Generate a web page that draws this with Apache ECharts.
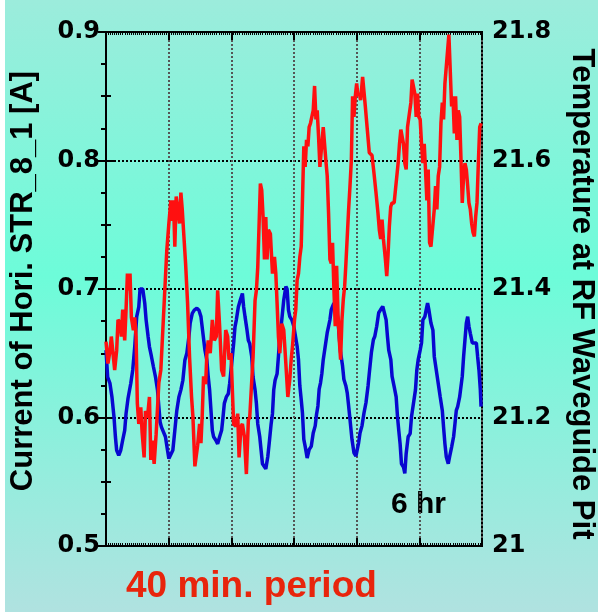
<!DOCTYPE html>
<html>
<head>
<meta charset="utf-8">
<title>Current vs temperature</title>
<script src="https://cdn.jsdelivr.net/npm/echarts@6/dist/echarts.min.js"></script>
<style>
  html, body { margin: 0; padding: 0; background: #fff; }
  #chart { position: absolute; left: 5px; top: 0; width: 593px; height: 612px; }
</style>
</head>
<body>
<div id="chart"></div>
<script>
// time in minutes (0 - 360 = 6 hr)
var redTime = [0, 1.9, 3.8, 5.1, 7, 8.3, 10.2, 11.5, 13.4, 14.7, 16, 17.9, 19.2, 20.5, 21.8, 23, 24.3, 26.2, 27.5, 28.8,
  30, 31.4, 33.3, 34.6, 36.5, 37.8, 39.7, 41.6, 42.9, 44.2, 46.1, 48, 50.6, 52.5, 54.4, 56.3, 58.2, 60.2, 62.1, 63.4,
  64.6, 65.9, 67.2, 69.1, 70.4, 71.7, 73, 74.2, 76.2, 78.1, 80, 81.9, 83.2, 85.1, 86.4, 87.7, 89.6, 90.9, 92.2, 93.4,
  95.4, 96.6, 97.9, 99.8, 101.8, 103.7, 105.6, 106.9, 108.8, 110.7, 112.6, 114.6, 116.5, 117.8, 119.7, 121, 122.2, 124.2, 126.1, 127.4,
  129.3, 130.6, 132.5, 134.4, 136.3, 137.6, 139.5, 140.8, 142.7, 144, 145.3, 146.6, 147.8, 149.1, 150.4, 151.7, 153, 154.2, 155.5, 157.4,
  159.4, 161.3, 162.6, 163.8, 165.1, 166.4, 168.3, 170.2, 172.2, 174.1, 176, 177.3, 178.5, 180.5, 181.7, 183, 184.3, 185.6, 186.9, 188.1,
  189.4, 190.7, 192, 193.3, 194.5, 195.8, 197.1, 198.4, 199.7, 201, 202.2, 203.5, 204.8, 206.7, 208, 209.3, 210.5, 211.8, 213.1, 214.4,
  215.7, 216.9, 218.2, 219.5, 220.8, 222.1, 223.3, 224.6, 225.9, 227.2, 228.5, 229.7, 231, 232.3, 233.6, 234.9, 236.1, 237.4, 238.7, 240,
  241.3, 242.5, 243.8, 245.7, 247, 248.3, 250.2, 252.1, 254.7, 256.6, 258.5, 260.4, 261.7, 263, 264.3, 265.6, 267.5, 268.8, 270, 271.3,
  272.6, 273.9, 275.9, 277.1, 278.4, 279.7, 281, 282.3, 283.5, 284.8, 286.1, 287.4, 288.7, 290.6, 291.9, 293.1, 294.4, 295.7, 297, 298.3,
  299.5, 300.8, 302.1, 303.4, 304.7, 305.9, 307.2, 308.5, 309.8, 311.1, 313, 314.3, 315.5, 316.8, 318.1, 319.4, 320.7, 322, 323.2, 324.5,
  325.8, 327.1, 328.3, 329.6, 330.9, 332.2, 333.5, 334.7, 336, 337.3, 338.6, 339.8, 341.1, 342.4, 343.7, 345, 346.3, 347.5, 348.8, 350.1,
  351.4, 352.7, 353.9, 355.2, 356.5, 357.8, 359.1];
var redCurrent = [0.659, 0.642, 0.652, 0.663, 0.663, 0.637, 0.652, 0.676, 0.674, 0.663, 0.684, 0.660, 0.684, 0.712, 0.699, 0.712, 0.678, 0.668, 0.678, 0.663,
  0.611, 0.595, 0.608, 0.588, 0.569, 0.605, 0.600, 0.616, 0.567, 0.582, 0.564, 0.587, 0.627, 0.637, 0.668, 0.699, 0.730, 0.751, 0.769, 0.753,
  0.769, 0.733, 0.772, 0.773, 0.751, 0.775, 0.762, 0.746, 0.720, 0.689, 0.647, 0.616, 0.601, 0.562, 0.562, 0.578, 0.595, 0.580, 0.603, 0.632,
  0.626, 0.650, 0.660, 0.650, 0.676, 0.660, 0.663, 0.699, 0.671, 0.637, 0.632, 0.668, 0.663, 0.645, 0.650, 0.621, 0.595, 0.593, 0.603, 0.569,
  0.593, 0.595, 0.585, 0.556, 0.598, 0.600, 0.600, 0.647, 0.691, 0.699, 0.717, 0.717, 0.782, 0.777, 0.756, 0.723, 0.756, 0.723, 0.746, 0.743,
  0.712, 0.725, 0.712, 0.689, 0.663, 0.650, 0.673, 0.668, 0.642, 0.616, 0.630, 0.645, 0.655, 0.676, 0.684, 0.707, 0.712, 0.725, 0.733, 0.769,
  0.811, 0.795, 0.816, 0.811, 0.826, 0.829, 0.829, 0.839, 0.858, 0.832, 0.839, 0.819, 0.795, 0.795, 0.826, 0.826, 0.800, 0.788, 0.759, 0.723,
  0.720, 0.736, 0.700, 0.671, 0.718, 0.681, 0.661, 0.645, 0.676, 0.692, 0.702, 0.720, 0.741, 0.762, 0.780, 0.800, 0.850, 0.834, 0.850, 0.860,
  0.850, 0.852, 0.847, 0.865, 0.865, 0.842, 0.842, 0.806, 0.804, 0.790, 0.775, 0.759, 0.746, 0.739, 0.754, 0.739, 0.723, 0.710, 0.726, 0.749,
  0.764, 0.767, 0.767, 0.777, 0.777, 0.798, 0.813, 0.824, 0.825, 0.813, 0.798, 0.793, 0.826, 0.826, 0.845, 0.863, 0.864, 0.852, 0.834, 0.852,
  0.834, 0.832, 0.813, 0.798, 0.813, 0.793, 0.769, 0.793, 0.736, 0.733, 0.733, 0.762, 0.780, 0.762, 0.788, 0.795, 0.829, 0.845, 0.832, 0.860,
  0.860, 0.886, 0.898, 0.870, 0.842, 0.850, 0.821, 0.850, 0.816, 0.839, 0.834, 0.803, 0.767, 0.788, 0.798, 0.793, 0.780, 0.767, 0.762, 0.751,
  0.744, 0.741, 0.756, 0.767, 0.798, 0.826, 0.829];

var blueTime = [0, 1.6, 3.8, 5.7, 7.7, 9, 10.2, 12.2, 14.1, 16, 17.9, 19.2, 21.1, 23.7, 25.6, 27.5, 29.4, 31.4, 32.6, 35.2,
  37.1, 38.4, 40.3, 41.6, 43.5, 45.4, 47.4, 49.3, 50.6, 51.8, 53.1, 55, 56.9, 58.9, 60.2, 62.1, 64, 65.9, 67.8, 69.8,
  71.7, 73.6, 75.5, 77.4, 79.4, 80.6, 82.6, 84.5, 87, 89, 90.9, 92.8, 94.7, 96.6, 97.9, 99.2, 100.5, 101.8, 103, 105,
  106.9, 108.8, 110.7, 112, 113.3, 115.2, 117.1, 118.4, 119.7, 121, 122.2, 123.5, 124.8, 126.7, 128.6, 130.6, 131.8, 133.1, 135, 136.3,
  137.6, 139.5, 140.8, 142.7, 144, 145.3, 147.2, 148.5, 149.8, 151.7, 153, 154.9, 156.2, 158.1, 159.4, 160.6, 161.9, 163.8, 165.1, 166.4,
  168.3, 170.2, 172.2, 173.4, 174.7, 176, 177.9, 179.8, 181.7, 183, 184.3, 185.6, 186.9, 188.1, 189.4, 190.7, 192.6, 194.5, 196.5, 198.4,
  200.3, 201.6, 202.9, 204.1, 205.4, 206.7, 208, 209.9, 211.8, 213.1, 214.4, 215.7, 216.9, 218.2, 220.1, 222.1, 223.3, 224.6, 226.5, 227.8,
  229.7, 231, 232.3, 233.6, 235.5, 237.4, 239.3, 240.6, 241.9, 243.2, 245.1, 247, 248.9, 250.9, 252.1, 254.1, 256, 257.3, 259.2, 261.1,
  263, 265, 266.9, 268.2, 269.5, 270.7, 272.7, 273.9, 275.9, 277.8, 279.1, 280.3, 281.6, 282.9, 284.8, 286.1, 287.4, 289.3, 291.2, 292.5,
  294.4, 296.3, 297.6, 298.9, 300.8, 302.1, 303.4, 305.3, 306.6, 307.9, 309.1, 311.1, 313, 314.3, 316.2, 318.1, 320, 322, 323.2, 324.5,
  325.8, 327.7, 329, 330.9, 332.8, 334.1, 335.4, 336.7, 338.6, 339.9, 341.1, 342.4, 343.7, 345, 346.3, 347.5, 348.8, 350.7, 352.6, 354.6,
  355.8, 357.1, 358.4, 359.1];
var blueTemp = [21.305, 21.263, 21.253, 21.232, 21.200, 21.170, 21.149, 21.141, 21.149, 21.165, 21.180, 21.206, 21.230, 21.253, 21.274, 21.310, 21.357, 21.372, 21.400, 21.400,
  21.378, 21.352, 21.326, 21.310, 21.295, 21.279, 21.263, 21.243, 21.217, 21.193, 21.185, 21.185, 21.170, 21.149, 21.136, 21.136, 21.149, 21.180, 21.211, 21.232,
  21.243, 21.258, 21.289, 21.300, 21.326, 21.347, 21.362, 21.367, 21.370, 21.367, 21.357, 21.331, 21.305, 21.289, 21.263, 21.243, 21.211, 21.180, 21.170, 21.165,
  21.159, 21.170, 21.180, 21.200, 21.222, 21.232, 21.237, 21.253, 21.274, 21.295, 21.315, 21.341, 21.352, 21.372, 21.383, 21.393, 21.372, 21.357, 21.336, 21.320,
  21.315, 21.295, 21.263, 21.243, 21.222, 21.190, 21.170, 21.149, 21.128, 21.128, 21.120, 21.139, 21.159, 21.190, 21.206, 21.243, 21.258, 21.268, 21.295, 21.326,
  21.352, 21.383, 21.404, 21.400, 21.367, 21.357, 21.352, 21.342, 21.342, 21.311, 21.290, 21.249, 21.228, 21.207, 21.166, 21.155, 21.137, 21.150, 21.155, 21.176,
  21.187, 21.205, 21.218, 21.244, 21.254, 21.269, 21.290, 21.311, 21.332, 21.342, 21.352, 21.368, 21.373, 21.378, 21.373, 21.352, 21.326, 21.301, 21.280, 21.259,
  21.249, 21.238, 21.218, 21.197, 21.166, 21.145, 21.140, 21.137, 21.161, 21.176, 21.187, 21.207, 21.223, 21.249, 21.269, 21.301, 21.321, 21.326, 21.342, 21.363,
  21.368, 21.373, 21.373, 21.352, 21.326, 21.305, 21.290, 21.264, 21.248, 21.232, 21.201, 21.180, 21.159, 21.128, 21.123, 21.113, 21.144, 21.170, 21.175, 21.201,
  21.222, 21.243, 21.274, 21.290, 21.305, 21.316, 21.352, 21.357, 21.368, 21.378, 21.368, 21.347, 21.336, 21.295, 21.274, 21.253, 21.232, 21.211, 21.185, 21.159,
  21.139, 21.128, 21.139, 21.154, 21.170, 21.190, 21.211, 21.217, 21.232, 21.232, 21.264, 21.295, 21.321, 21.347, 21.357, 21.342, 21.331, 21.316, 21.316, 21.316,
  21.295, 21.274, 21.243, 21.217];

var leftTitle = "Current of Hori. STR_8_1 [A]";
var rightTitle = "Temperature at RF Waveguide Pit";

function pairs(xs, ys) {
  var out = [];
  for (var i = 0; i < xs.length; i++) out.push([xs[i], ys[i]]);
  return out;
}

var chart = echarts.init(document.getElementById("chart"));
var tickFont = { fontFamily: "DejaVu Sans", fontWeight: "bold", fontSize: 24, color: "#000", padding: [0, 0, 8, 0] };
var titleFont = { fontFamily: "Liberation Sans", fontWeight: "bold", fontSize: 31, color: "#000" };

var xCommon = {
  type: "value", min: 0, max: 360, interval: 60,
  axisLabel: { show: false },
  axisLine: { show: true, lineStyle: { color: "#000", width: 2 } },
  axisTick: { show: true, inside: true, length: 8, lineStyle: { color: "#000", width: 2 } },
  minorTick: { show: true, splitNumber: 30, length: 3, lineStyle: { color: "#000", width: 1 } }
};

chart.setOption({
  backgroundColor: {
    type: "linear", x: 0, y: 0, x2: 0, y2: 1,
    colorStops: [{ offset: 0, color: "#9cecdc" }, { offset: 0.45, color: "#6dfcd9" }, { offset: 1, color: "#b0e2e0" }]
  },
  animation: false,
  grid: { left: 101, right: 116, top: 32, bottom: 66, outerBoundsMode: "none", containLabel: false,
    show: true, borderColor: "#000", borderWidth: 2 },
  xAxis: [
    Object.assign({}, xCommon, {
      position: "bottom",
      splitLine: { show: true, lineStyle: { color: "#555", width: 2, type: [2, 2] } }
    }),
    Object.assign({}, xCommon, { position: "top", splitLine: { show: false } })
  ],
  yAxis: [{
    type: "value", min: 0.5, max: 0.9, interval: 0.1, position: "left",
    name: leftTitle, nameLocation: "middle", nameRotate: 90, nameGap: 67,
    nameTextStyle: Object.assign({ padding: [0, 0, 0, 16] }, titleFont),
    axisLabel: Object.assign({ margin: 6, formatter: function (v) { return v.toFixed(1); } }, tickFont),
    axisLine: { show: true, lineStyle: { color: "#000", width: 2 } },
    axisTick: { show: true, inside: true, length: 8, lineStyle: { color: "#000", width: 2 } },
    minorTick: { show: true, splitNumber: 2, length: 5, lineStyle: { color: "#000", width: 2 } },
    splitLine: { show: true, lineStyle: { color: "#000", width: 2, type: [2, 2] } }
  }, {
    type: "value", min: 21, max: 21.8, interval: 0.2, position: "right",
    name: rightTitle, nameLocation: "middle", nameRotate: -90, nameGap: 84,
    nameTextStyle: Object.assign({ padding: [0, 0, 0, 10] }, titleFont),
    axisLabel: Object.assign({ margin: 10 }, tickFont),
    axisLine: { show: true, lineStyle: { color: "#000", width: 2 } },
    axisTick: { show: true, inside: true, length: 8, lineStyle: { color: "#000", width: 2 } },
    minorTick: { show: true, splitNumber: 4, length: 5, lineStyle: { color: "#000", width: 2 } },
    splitLine: { show: false }
  }],
  graphic: [
    { type: "text", left: 386, top: 490,
      style: { text: "6 hr", font: "bold 30px 'Liberation Sans'", fill: "#000" } },
    { type: "text", left: 121, top: 568,
      style: { text: "40 min. period", font: "bold 37px 'Liberation Sans'", fill: "#e8250c" } }
  ],
  series: [{
    name: "Temperature", type: "line", xAxisIndex: 0, yAxisIndex: 1,
    data: pairs(blueTime, blueTemp), showSymbol: false,
    lineStyle: { color: "#0808d0", width: 3.5 }
  }, {
    name: "Current", type: "line", xAxisIndex: 0, yAxisIndex: 0,
    data: pairs(redTime, redCurrent), showSymbol: false,
    lineStyle: { color: "#ff1010", width: 3.5 }
  }]
});
</script>
</body>
</html>
